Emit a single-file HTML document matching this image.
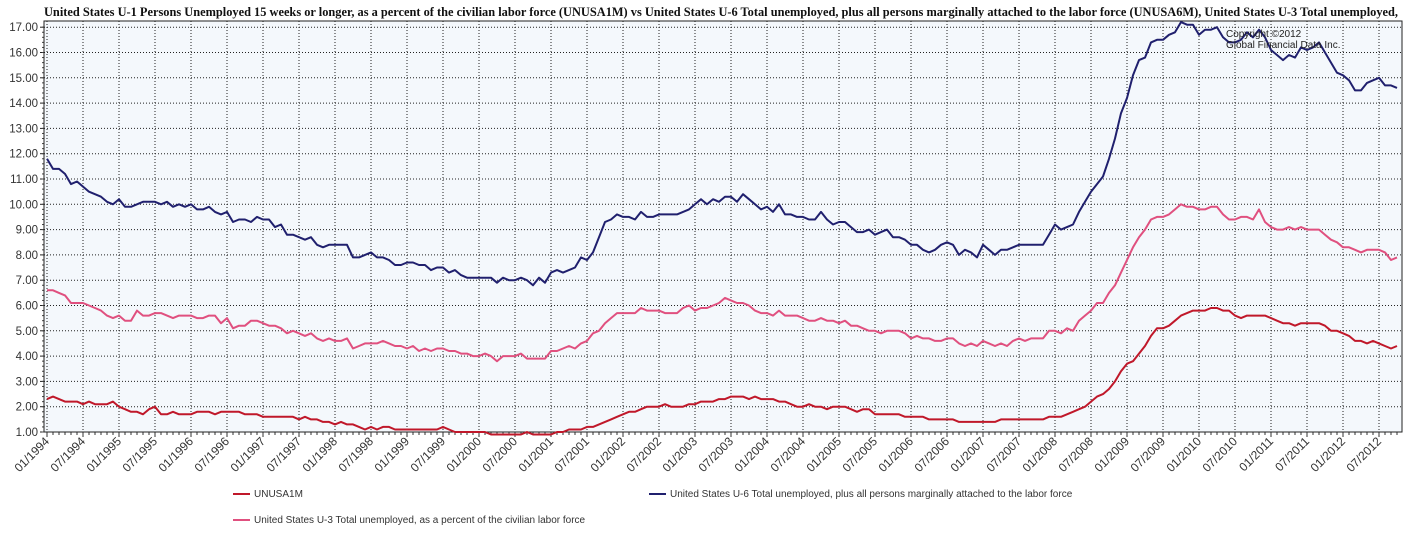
<!DOCTYPE html>
<html><head><meta charset="utf-8"><style>
html,body{margin:0;padding:0;background:#fff;width:1403px;height:544px;overflow:hidden}
svg{display:block}
</style></head><body>
<svg id="c" width="1403" height="544" xmlns="http://www.w3.org/2000/svg">
<text x="44" y="16" textLength="1354" lengthAdjust="spacingAndGlyphs" font-family="Liberation Serif, serif" font-weight="bold" font-size="12.5" fill="#111">United States U-1 Persons Unemployed 15 weeks or longer, as a percent of the civilian labor force (UNUSA1M)  vs  United States U-6 Total unemployed, plus all persons marginally attached to the labor force (UNUSA6M), United States U-3 Total unemployed,</text>
<rect x="44" y="21" width="1358" height="411" fill="#f4f8fc"/>
<g id="grid"></g>
<g id="series"></g>
<text x="1226" y="37" font-family="Liberation Sans, sans-serif" font-size="10" fill="#222">Copyright ©2012</text>
<text x="1226" y="48" font-family="Liberation Sans, sans-serif" font-size="10" fill="#222">Global Financial Data Inc.</text>
<g font-family="Liberation Sans, sans-serif" font-size="10" fill="#333">
<line x1="233" y1="494" x2="250" y2="494" stroke="#c0182a" stroke-width="2"/>
<text x="254" y="497">UNUSA1M</text>
<line x1="649" y1="494" x2="666" y2="494" stroke="#20206e" stroke-width="2"/>
<text x="670" y="497">United States U-6 Total unemployed, plus all persons marginally attached to the labor force</text>
<line x1="233" y1="520" x2="250" y2="520" stroke="#e0507f" stroke-width="2"/>
<text x="254" y="523">United States U-3 Total unemployed, as a percent of the civilian labor force</text>
</g>
</svg>
<script>
const yTicks=[1,2,3,4,5,6,7,8,9,10,11,12,13,14,15,16,17];
const startYear=1994;
const u3=[6.6,6.6,6.5,6.4,6.1,6.1,6.1,6.0,5.9,5.8,5.6,5.5,
5.6,5.4,5.4,5.8,5.6,5.6,5.7,5.7,5.6,5.5,5.6,5.6,
5.6,5.5,5.5,5.6,5.6,5.3,5.5,5.1,5.2,5.2,5.4,5.4,
5.3,5.2,5.2,5.1,4.9,5.0,4.9,4.8,4.9,4.7,4.6,4.7,
4.6,4.6,4.7,4.3,4.4,4.5,4.5,4.5,4.6,4.5,4.4,4.4,
4.3,4.4,4.2,4.3,4.2,4.3,4.3,4.2,4.2,4.1,4.1,4.0,
4.0,4.1,4.0,3.8,4.0,4.0,4.0,4.1,3.9,3.9,3.9,3.9,
4.2,4.2,4.3,4.4,4.3,4.5,4.6,4.9,5.0,5.3,5.5,5.7,
5.7,5.7,5.7,5.9,5.8,5.8,5.8,5.7,5.7,5.7,5.9,6.0,
5.8,5.9,5.9,6.0,6.1,6.3,6.2,6.1,6.1,6.0,5.8,5.7,
5.7,5.6,5.8,5.6,5.6,5.6,5.5,5.4,5.4,5.5,5.4,5.4,
5.3,5.4,5.2,5.2,5.1,5.0,5.0,4.9,5.0,5.0,5.0,4.9,
4.7,4.8,4.7,4.7,4.6,4.6,4.7,4.7,4.5,4.4,4.5,4.4,
4.6,4.5,4.4,4.5,4.4,4.6,4.7,4.6,4.7,4.7,4.7,5.0,
5.0,4.9,5.1,5.0,5.4,5.6,5.8,6.1,6.1,6.5,6.8,7.3,
7.8,8.3,8.7,9.0,9.4,9.5,9.5,9.6,9.8,10.0,9.9,9.9,
9.8,9.8,9.9,9.9,9.6,9.4,9.4,9.5,9.5,9.4,9.8,9.3,
9.1,9.0,9.0,9.1,9.0,9.1,9.0,9.0,9.0,8.8,8.6,8.5,
8.3,8.3,8.2,8.1,8.2,8.2,8.2,8.1,7.8,7.9];
const u6=[11.8,11.4,11.4,11.2,10.8,10.9,10.7,10.5,10.4,10.3,10.1,10.0,
10.2,9.9,9.9,10.0,10.1,10.1,10.1,10.0,10.1,9.9,10.0,9.9,
10.0,9.8,9.8,9.9,9.7,9.6,9.7,9.3,9.4,9.4,9.3,9.5,
9.4,9.4,9.1,9.2,8.8,8.8,8.7,8.6,8.7,8.4,8.3,8.4,
8.4,8.4,8.4,7.9,7.9,8.0,8.1,7.9,7.9,7.8,7.6,7.6,
7.7,7.7,7.6,7.6,7.4,7.5,7.5,7.3,7.4,7.2,7.1,7.1,
7.1,7.1,7.1,6.9,7.1,7.0,7.0,7.1,7.0,6.8,7.1,6.9,
7.3,7.4,7.3,7.4,7.5,7.9,7.8,8.1,8.7,9.3,9.4,9.6,
9.5,9.5,9.4,9.7,9.5,9.5,9.6,9.6,9.6,9.6,9.7,9.8,
10.0,10.2,10.0,10.2,10.1,10.3,10.3,10.1,10.4,10.2,10.0,9.8,
9.9,9.7,10.0,9.6,9.6,9.5,9.5,9.4,9.4,9.7,9.4,9.2,
9.3,9.3,9.1,8.9,8.9,9.0,8.8,8.9,9.0,8.7,8.7,8.6,
8.4,8.4,8.2,8.1,8.2,8.4,8.5,8.4,8.0,8.2,8.1,7.9,
8.4,8.2,8.0,8.2,8.2,8.3,8.4,8.4,8.4,8.4,8.4,8.8,
9.2,9.0,9.1,9.2,9.7,10.1,10.5,10.8,11.1,11.8,12.6,13.6,
14.2,15.1,15.7,15.8,16.4,16.5,16.5,16.7,16.8,17.2,17.1,17.1,
16.7,16.9,16.9,17.0,16.6,16.4,16.4,16.5,16.8,16.6,16.9,16.6,
16.1,15.9,15.7,15.9,15.8,16.2,16.1,16.2,16.4,16.0,15.6,15.2,
15.1,14.9,14.5,14.5,14.8,14.9,15.0,14.7,14.7,14.6];
const u1=[2.3,2.4,2.3,2.2,2.2,2.2,2.1,2.2,2.1,2.1,2.1,2.2,
2.0,1.9,1.8,1.8,1.7,1.9,2.0,1.7,1.7,1.8,1.7,1.7,
1.7,1.8,1.8,1.8,1.7,1.8,1.8,1.8,1.8,1.7,1.7,1.7,
1.6,1.6,1.6,1.6,1.6,1.6,1.5,1.6,1.5,1.5,1.4,1.4,
1.3,1.4,1.3,1.3,1.2,1.1,1.2,1.1,1.2,1.2,1.1,1.1,
1.1,1.1,1.1,1.1,1.1,1.1,1.2,1.1,1.0,1.0,1.0,1.0,
1.0,1.0,0.9,0.9,0.9,0.9,0.9,0.9,1.0,0.9,0.9,0.9,
0.9,1.0,1.0,1.1,1.1,1.1,1.2,1.2,1.3,1.4,1.5,1.6,
1.7,1.8,1.8,1.9,2.0,2.0,2.0,2.1,2.0,2.0,2.0,2.1,
2.1,2.2,2.2,2.2,2.3,2.3,2.4,2.4,2.4,2.3,2.4,2.3,
2.3,2.3,2.2,2.2,2.1,2.0,2.0,2.1,2.0,2.0,1.9,2.0,
2.0,2.0,1.9,1.8,1.9,1.9,1.7,1.7,1.7,1.7,1.7,1.6,
1.6,1.6,1.6,1.5,1.5,1.5,1.5,1.5,1.4,1.4,1.4,1.4,
1.4,1.4,1.4,1.5,1.5,1.5,1.5,1.5,1.5,1.5,1.5,1.6,
1.6,1.6,1.7,1.8,1.9,2.0,2.2,2.4,2.5,2.7,3.0,3.4,
3.7,3.8,4.1,4.4,4.8,5.1,5.1,5.2,5.4,5.6,5.7,5.8,
5.8,5.8,5.9,5.9,5.8,5.8,5.6,5.5,5.6,5.6,5.6,5.6,
5.5,5.4,5.3,5.3,5.2,5.3,5.3,5.3,5.3,5.2,5.0,5.0,
4.9,4.8,4.6,4.6,4.5,4.6,4.5,4.4,4.3,4.4];

const NS='http://www.w3.org/2000/svg';
const L=44,R=1402,T=21,B=432;
const x=i=>47+6*i;
const y=v=>432-(v-1)*25.3;
function mk(tag,attrs,parent){const e=document.createElementNS(NS,tag);for(const k in attrs)e.setAttribute(k,attrs[k]);parent.appendChild(e);return e;}
const grid=document.getElementById('grid'),ser=document.getElementById('series');
yTicks.forEach(v=>{
  const g=mk('line',{x1:L,x2:R,y1:y(v),y2:y(v),stroke:'#222','stroke-width':1,'stroke-dasharray':'1,2'},grid);
  
  
  const t=mk('text',{x:38,y:y(v)+4,'text-anchor':'end','font-family':'Liberation Sans, sans-serif','font-size':'11.5',fill:'#333'},grid);
  t.textContent=v.toFixed(2);
  
  
  mk('line',{x1:L-4,x2:L,y1:y(v),y2:y(v),stroke:'#222'},grid);
});
for(let v=1;v<=17.01;v+=0.2){mk('line',{x1:L-2,x2:L,y1:y(v),y2:y(v),stroke:'#444'},grid);}
const n=u3.length;
for(let i=0;i<n;i++){
  const xx=x(i);
  const major=i%6===0;
  mk('line',{x1:xx,x2:xx,y1:B,y2:B+(major?5:3),stroke:'#333'},grid);
  if(major){
    const g=mk('line',{x1:xx,x2:xx,y1:T,y2:B,stroke:'#222','stroke-width':1,'stroke-dasharray':'1,2'},grid);
    
    
    const m=i%12===0?'01':'07';const yr=startYear+Math.floor(i/12);
    const t=mk('text',{x:xx+3,y:B+10,'text-anchor':'end','font-family':'Liberation Sans, sans-serif','font-size':'12',fill:'#333',transform:`rotate(-45 ${xx+3} ${B+10})`},grid);
    t.textContent=m+'/'+yr;
    
    
  }
}
mk('rect',{x:L,y:T,width:R-L,height:B-T,fill:'none',stroke:'#222','stroke-width':1},grid);
function line(arr,color,name){
  const p=mk('path',{d:arr.map((v,i)=>(i?'L':'M')+x(i)+','+y(v).toFixed(1)).join(''),fill:'none',stroke:color,'stroke-width':2,'stroke-linejoin':'round'},ser);
  
  
}
line(u3,'#e0507f','u3-line');
line(u1,'#c0182a','u1-line');
line(u6,'#20206e','u6-line');
</script>
</body></html>
